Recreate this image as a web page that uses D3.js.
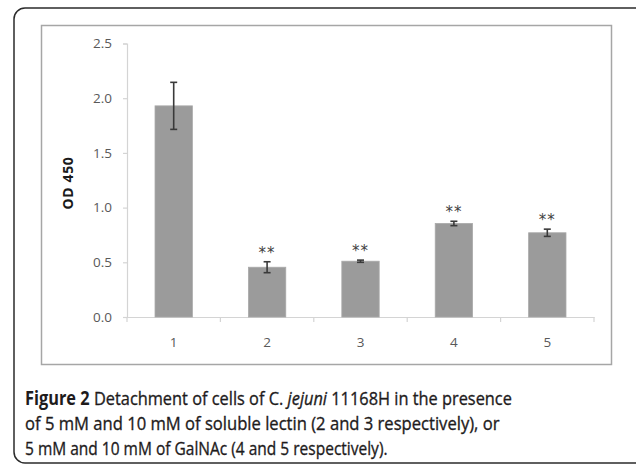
<!DOCTYPE html>
<html>
<head>
<meta charset="utf-8">
<script src="https://cdn.jsdelivr.net/npm/d3@7"></script>
<style>
  body { margin: 0; background: #fff; }
  svg { display: block; }
</style>
</head>
<body>
<svg id="chart" width="636" height="465"></svg>
<script>
// chart values
var categories = ["1", "2", "3", "4", "5"];
var odValues = [1.93, 0.455, 0.51, 0.855, 0.77];
var odErrors = [0.215, 0.05, 0.01, 0.02, 0.033];
var marks = ["", "**", "**", "**", "**"];
var yTicks = [0, 0.5, 1.0, 1.5, 2.0, 2.5];
var captionLines = [
    [{t: "Figure 2", b: true}, {t: " Detachment of cells of C. "}, {t: "jejuni", i: true}, {t: " 11168H in the presence"}],
    [{t: "of 5 mM and 10 mM of soluble lectin (2 and 3 respectively), or"}],
    [{t: "5 mM and 10 mM of GalNAc (4 and 5 respectively)."}]
];
var captionWidths = [487, 475, 363];

var svg = d3.select("svg#chart");

// outer rounded frame
svg.append("rect")
    .attr("x", 14)
    .attr("y", 8)
    .attr("width", 640)
    .attr("height", 455)
    .attr("rx", 11)
    .style("fill", "none")
    .style("stroke", "#2b2b2b")
    .style("stroke-width", 1.5);

// inner chart box
svg.append("rect")
    .attr("x", 41.5)
    .attr("y", 25.5)
    .attr("width", 570)
    .attr("height", 339)
    .style("fill", "#fff")
    .style("stroke", "#a6a6a6")
    .style("stroke-width", 1.5);

var plot = { left: 127, right: 594, top: 43.5, bottom: 317 };

var xScale = d3.scaleBand()
    .domain(categories)
    .range([plot.left, plot.right])
    .paddingInner(0.6)
    .paddingOuter(0.3);

var yScale = d3.scaleLinear()
    .domain([0, 2.5])
    .range([plot.bottom, plot.top]);

// y axis
svg.append("g")
    .attr("class", "axis axis-y")
    .attr("transform", "translate(" + plot.left + ",0)")
    .call(d3.axisLeft(yScale).tickValues(yTicks).tickFormat(d3.format(".1f")).tickSize(4).tickPadding(11));

// x axis
var xAxis = svg.append("g")
    .attr("class", "axis axis-x")
    .attr("transform", "translate(0," + plot.bottom + ")")
    .call(d3.axisBottom(xScale).tickSize(0).tickPadding(20));

// category boundary ticks, like the spreadsheet axis
var step = xScale.step();
var bounds = d3.range(categories.length + 1).map(i => plot.left + i * step);
xAxis.selectAll("line.bound")
    .data(bounds)
    .enter()
    .append("line")
    .attr("class", "bound")
    .attr("x1", d => d)
    .attr("x2", d => d)
    .attr("y1", 0)
    .attr("y2", 5);

svg.selectAll(".axis path.domain, .axis line")
    .style("stroke", "#d4d4d4")
    .style("stroke-width", 1.2);
svg.selectAll(".axis text")
    .style("font-family", "'Open Sans', sans-serif")
    .style("font-size", "13.5px")
    .style("fill", "#595959");

// bars
svg.append("g")
    .attr("class", "bars")
    .selectAll("rect")
    .data(odValues)
    .enter()
    .append("rect")
    .attr("x", (d, i) => xScale(categories[i]))
    .attr("y", d => yScale(d))
    .attr("width", xScale.bandwidth())
    .attr("height", d => yScale(0) - yScale(d))
    .style("fill", "#9b9b9b")
    .style("stroke", "#a9a9a9")
    .style("stroke-width", 0.8);

// error bars
var errs = svg.append("g")
    .attr("class", "errors")
    .selectAll("g")
    .data(odValues)
    .enter()
    .append("g")
    .attr("transform", (d, i) => "translate(" + (xScale(categories[i]) + xScale.bandwidth() / 2) + ",0)");

errs.append("line")
    .attr("y1", (d, i) => yScale(d + odErrors[i]))
    .attr("y2", (d, i) => yScale(d - odErrors[i]));
errs.append("line")
    .attr("x1", -3.5).attr("x2", 3.5)
    .attr("y1", (d, i) => yScale(d + odErrors[i]))
    .attr("y2", (d, i) => yScale(d + odErrors[i]));
errs.append("line")
    .attr("x1", -3.5).attr("x2", 3.5)
    .attr("y1", (d, i) => yScale(d - odErrors[i]))
    .attr("y2", (d, i) => yScale(d - odErrors[i]));
errs.selectAll("line")
    .style("stroke", "#3a3a3a")
    .style("stroke-width", 1.6);

// significance marks
errs.append("text")
    .attr("y", (d, i) => yScale(d + odErrors[i]) - 4)
    .style("text-anchor", "middle")
    .style("font-family", "'DejaVu Sans', sans-serif")
    .style("font-size", "15px")
    .style("fill", "#404040")
    .style("letter-spacing", "1px")
    .text((d, i) => marks[i]);

// y axis title
svg.append("text")
    .attr("transform", "translate(73,183) rotate(-90)")
    .style("text-anchor", "middle")
    .style("font-family", "'Open Sans', sans-serif")
    .style("font-weight", "bold")
    .style("font-size", "14px")
    .style("letter-spacing", "0.6px")
    .style("fill", "#1a1a1a")
    .text("OD 450");

// caption: one text per part, line squeezed to the printed width
var caption = svg.append("g")
    .attr("class", "caption");
captionLines.forEach(function(line, li) {
    var lineG = caption.append("g");
    var x = 0;
    line.forEach(function(part) {
        var t = lineG.append("text")
            .attr("x", x)
            .attr("y", 0)
            .style("font-family", "'Open Sans', sans-serif")
            .style("font-size", "19px")
            .style("font-weight", part.b ? "bold" : "normal")
            .style("font-style", part.i ? "italic" : "normal")
            .style("white-space", "pre")
            .style("fill", "#1e1b1c")
            .style("stroke", "#1e1b1c")
            .style("stroke-width", part.b ? 0 : 0.35)
            .text(part.t);
        x += t.node().getComputedTextLength();
    });
    var k = captionWidths[li] / x;
    lineG.attr("transform", "translate(25," + (405 + li * 25) + ") scale(" + k + ",1)");
});
</script>
</body>
</html>
